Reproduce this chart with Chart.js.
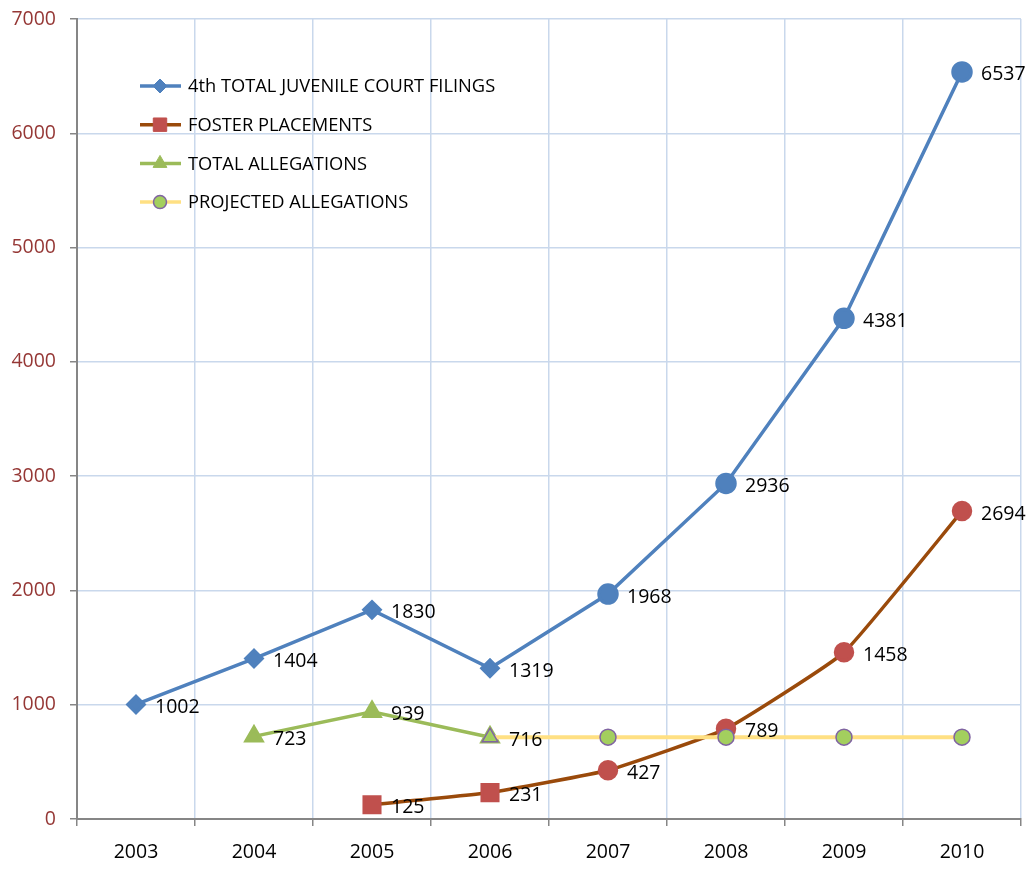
<!DOCTYPE html>
<html>
<head>
<meta charset="utf-8">
<script src="https://cdn.jsdelivr.net/npm/chart.js@4/dist/chart.umd.min.js"></script>
<style>
  html, body { margin: 0; padding: 0; background: #fff; }
  #wrap { width: 1034px; height: 869px; }
</style>
</head>
<body>
<div id="wrap"><canvas id="chart" width="1034" height="869"></canvas></div>
<script>
// data
const years = ["2003", "2004", "2005", "2006", "2007", "2008", "2009", "2010"];
const courtFilings = [1002, 1404, 1830, 1319, 1968, 2936, 4381, 6537];
const fosterPlacements = [null, null, 125, 231, 427, 789, 1458, 2694];
const totalAllegations = [null, 723, 939, 716, null, null, null, null];
const projectedAllegations = [null, null, null, 716, 716, 716, 716, 716];
const yTicks = [0, 1000, 2000, 3000, 4000, 5000, 6000, 7000];

const FONT = '"Open Sans", "Noto Sans", sans-serif';

// colours
const BLUE = "#4f81bd";
const BROWN = "#9a4a0b";
const RED = "#c0504d";
const GREEN = "#9bbb59";
const YELLOW = "#ffe083";
const LIGHTGREEN = "#a3cf5e";
const PURPLE = "#8064a2";

// values next to points
const valueLabels = {
  id: "valueLabels",
  afterDatasetsDraw(chart) {
    const ctx = chart.ctx;
    ctx.save();
    ctx.font = "19.5px " + FONT;
    ctx.fillStyle = "#000";
    ctx.textAlign = "left";
    ctx.textBaseline = "middle";
    chart.data.datasets.forEach((ds, i) => {
      if (!ds.showValues) return;
      chart.getDatasetMeta(i).data.forEach((pt, j) => {
        const v = ds.data[j];
        if (v == null) return;
        ctx.fillText(String(v), pt.x + 19, pt.y + 3);
      });
    });
    ctx.restore();
  },
};

// legend drawn inside the plot, top left
const insideLegend = {
  id: "insideLegend",
  afterDraw(chart) {
    const ctx = chart.ctx;
    const items = [
      { text: "4th TOTAL JUVENILE COURT FILINGS", line: BLUE, fill: BLUE, border: BLUE, style: "rectRot", r: 7 },
      { text: "FOSTER PLACEMENTS", line: BROWN, fill: RED, border: RED, style: "rect", r: 9.5 },
      { text: "TOTAL ALLEGATIONS", line: GREEN, fill: GREEN, border: GREEN, style: "triangle", r: 8 },
      { text: "PROJECTED ALLEGATIONS", line: YELLOW, fill: LIGHTGREEN, border: PURPLE, style: "circle", r: 6.5 },
    ];
    ctx.save();
    items.forEach((it, k) => {
      const y = 86 + k * 38.7;
      ctx.strokeStyle = it.line;
      ctx.lineWidth = 3.5;
      ctx.beginPath();
      ctx.moveTo(140, y);
      ctx.lineTo(181, y);
      ctx.stroke();
      ctx.fillStyle = it.fill;
      ctx.strokeStyle = it.border;
      ctx.lineWidth = it.style === "circle" ? 1.5 : 1;
      if (Chart.helpers && Chart.helpers.drawPoint) {
        Chart.helpers.drawPoint(ctx, { pointStyle: it.style, radius: it.r, rotation: 0, borderWidth: ctx.lineWidth }, 160, y);
      }
      ctx.fillStyle = "#000";
      ctx.font = "18.3px " + FONT;
      ctx.textAlign = "left";
      ctx.textBaseline = "middle";
      ctx.fillText(it.text, 188, y + 1);
    });
    ctx.restore();
  },
};

const ctx = document.getElementById("chart").getContext("2d");
new Chart(ctx, {
  type: "line",
  data: {
    labels: years,
    datasets: [
      {
        label: "4th TOTAL JUVENILE COURT FILINGS",
        data: courtFilings,
        borderColor: BLUE,
        borderWidth: 3.5,
        backgroundColor: BLUE,
        pointBackgroundColor: BLUE,
        pointBorderColor: BLUE,
        pointStyle: ["rectRot", "rectRot", "rectRot", "rectRot", "circle", "circle", "circle", "circle"],
        pointRadius: [8, 8, 8, 8, 9, 9, 9, 9],
        tension: 0,
        showValues: true,
        order: 0,
      },
      {
        label: "PROJECTED ALLEGATIONS",
        data: projectedAllegations,
        borderColor: YELLOW,
        borderWidth: 4,
        pointBackgroundColor: LIGHTGREEN,
        pointBorderColor: PURPLE,
        pointBorderWidth: 1.5,
        pointStyle: ["circle", "circle", "circle", "triangle", "circle", "circle", "circle", "circle"],
        pointRadius: [0, 0, 0, 9, 8, 8, 8, 8],
        tension: 0,
        order: 1,
      },
      {
        label: "FOSTER PLACEMENTS",
        data: fosterPlacements,
        borderColor: BROWN,
        borderWidth: 3.5,
        pointBackgroundColor: RED,
        pointBorderColor: RED,
        pointStyle: ["rect", "rect", "rect", "rect", "circle", "circle", "circle", "circle"],
        pointRadius: [0, 0, 11, 11, 8.5, 8.5, 8.5, 8.5],
        tension: 0.12,
        showValues: true,
        order: 2,
      },
      {
        label: "TOTAL ALLEGATIONS",
        data: totalAllegations,
        borderColor: GREEN,
        borderWidth: 3.5,
        pointBackgroundColor: GREEN,
        pointBorderColor: GREEN,
        pointStyle: "triangle",
        pointRadius: 9,
        tension: 0,
        showValues: true,
        order: 3,
      },
    ],
  },
  options: {
    responsive: false,
    animation: false,
    events: [],
    layout: { padding: { top: 19, right: 13, left: 0, bottom: 0 } },
    plugins: {
      legend: { display: false },
      tooltip: { enabled: false },
    },
    scales: {
      x: {
        offset: true,
        grid: { offset: true, color: "#c9d8ec", tickColor: "#868686", tickLength: 7, lineWidth: 1.5 },
        border: { color: "#868686", width: 2 },
        ticks: { color: "#000", font: { family: FONT, size: 19.5 }, padding: 15, maxRotation: 0 },
        afterFit(scale) {
          scale.height = 50;
        },
      },
      y: {
        min: yTicks[0],
        max: yTicks[yTicks.length - 1],
        afterBuildTicks(scale) {
          scale.ticks = yTicks.map((v) => ({ value: v }));
        },
        grid: { color: "#c9d8ec", tickColor: "#868686", tickLength: 7, lineWidth: 1.5 },
        border: { color: "#868686", width: 2 },
        ticks: {
          color: "#953735",
          font: { family: FONT, size: 19.5 },
          padding: 14,
          callback: (v) => String(v),
        },
        afterFit(scale) {
          scale.width = 77;
          scale.paddingTop = 0;
          scale.paddingBottom = 0;
        },
      },
    },
  },
  plugins: [valueLabels, insideLegend],
});
</script>
</body>
</html>
